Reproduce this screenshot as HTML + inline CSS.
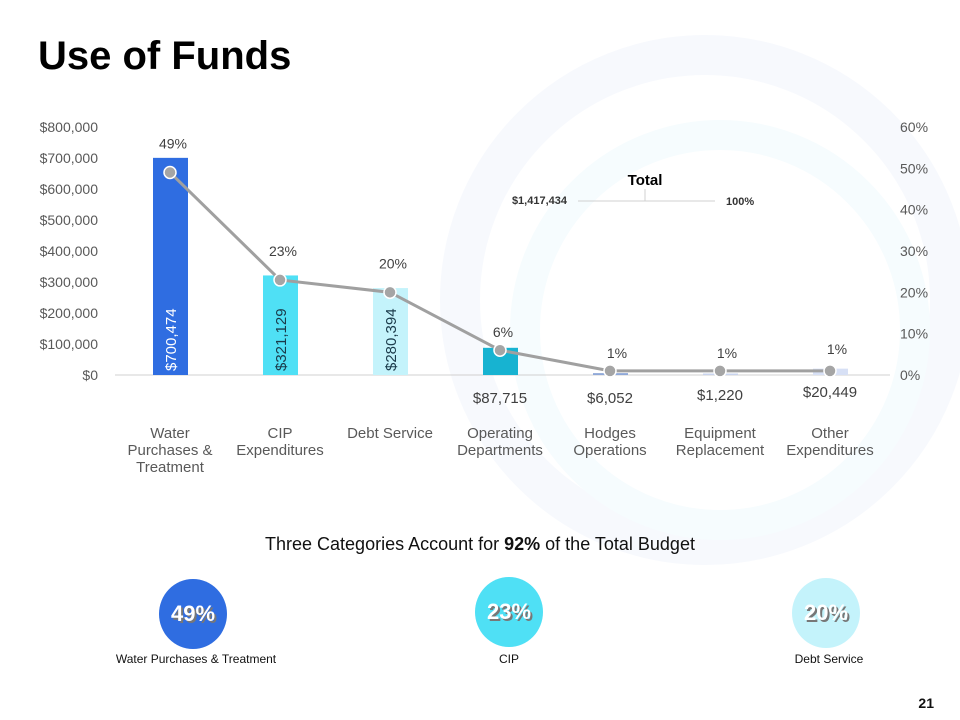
<!DOCTYPE html>
<html><head><meta charset="utf-8"><style>
body{margin:0;width:960px;height:720px;overflow:hidden;background:#fff;font-family:"Liberation Sans",sans-serif;}
svg{position:absolute;left:0;top:0}
</style></head><body>
<svg width="960" height="720">
<g>
<circle cx="705" cy="300" r="245" fill="none" stroke="#f7f9fd" stroke-width="40"/>
<circle cx="720" cy="330" r="195" fill="none" stroke="#f6fcfe" stroke-width="30"/>
</g>
<text x="38" y="69" font-size="40" font-weight="bold" fill="#000">Use of Funds</text>
<g id="chart"></g>
<text x="480" y="550" text-anchor="middle" font-size="18" fill="#111">Three Categories Account for <tspan font-weight="bold">92%</tspan> of the Total Budget</text>
<g id="circles"></g>
<text x="934" y="708" text-anchor="end" font-size="14" font-weight="bold" fill="#111">21</text>
</svg>
<script>
const categories=[["Water","Purchases &","Treatment"],["CIP","Expenditures"],["Debt Service"],["Operating","Departments"],["Hodges","Operations"],["Equipment","Replacement"],["Other","Expenditures"]];
const amounts=[700474,321129,280394,87715,6052,1220,20449];
const amountLabels=["$700,474","$321,129","$280,394","$87,715","$6,052","$1,220","$20,449"];
const percents=[49,23,20,6,1,1,1];
const leftTicks=[0,100000,200000,300000,400000,500000,600000,700000,800000];
const rightTicks=[0,10,20,30,40,50,60];
const barColors=["#2f6de1","#4fe0f5","#c4f3fb","#17b3d1","#8fa8d8","#c9d4ee","#d7e0f5"];
const NS="http://www.w3.org/2000/svg";
const chart=document.getElementById('chart');
function el(tag,attrs,parent,txt){const e=document.createElementNS(NS,tag);for(const k in attrs)e.setAttribute(k,attrs[k]);if(txt!==undefined)e.textContent=txt;(parent||chart).appendChild(e);return e;}
const y0=375,yTop=127;
const yL=v=>y0-(v/800000)*(y0-yTop);
const yR=p=>y0-(p/60)*(y0-yTop);
const xC=i=>170+i*110;
leftTicks.forEach(t=>{const e=el('text',{x:98,y:yL(t)+5,'text-anchor':'end','font-size':14,fill:'#595959'},chart,'$'+t.toLocaleString('en-US'));

});
rightTicks.forEach(t=>{const e=el('text',{x:900,y:yR(t)+5,'font-size':14,fill:'#595959'},chart,t+'%');

});
const ax=el('line',{x1:115,x2:890,y1:y0,y2:y0,stroke:'#d0d0d0'});


amounts.forEach((v,i)=>{const h=Math.max(y0-yL(v),1.5);
const b=el('rect',{x:xC(i)-17,y:y0-h,width:35,height:h,fill:barColors[i]});


let t;
if(i<3){t=el('text',{transform:`translate(${xC(i)+6},${y0-4}) rotate(-90)`,'font-size':15,fill:i==0?'#fff':'#1a3a4a','text-anchor':'start'},chart,amountLabels[i]);}
else{t=el('text',{x:xC(i),y:i==6?397:(i==5?400:403),'text-anchor':'middle','font-size':15,fill:'#404040'},chart,amountLabels[i]);}


categories[i].forEach((ln,j)=>{const c=el('text',{x:xC(i),y:438+j*17,'text-anchor':'middle','font-size':15,fill:'#595959'},chart,ln);

});
});
const pts=percents.map((p,i)=>[xC(i),yR(p)]);
const pl=el('polyline',{points:pts.map(p=>p.join(',')).join(' '),fill:'none',stroke:'#a0a0a0','stroke-width':3});


pts.forEach((p,i)=>{const c=el('circle',{cx:p[0],cy:p[1],r:6,fill:'#a5a5a5',stroke:'#fff','stroke-width':1.5});


const t=el('text',{x:p[0]+(i<4?3:7),y:p[1]-(i<3?24:13)-(i==6?4:0),'font-size':14,fill:'#404040','text-anchor':'middle'},chart,percents[i]+'%');

});
const tt=el('text',{x:645,y:185,'text-anchor':'middle','font-size':15,'font-weight':'bold',fill:'#000'},chart,'Total');


el('line',{x1:578,x2:715,y1:201,y2:201,stroke:'#d0d0d0'});
el('line',{x1:645,x2:645,y1:189,y2:201,stroke:'#d0d0d0'});
const ta=el('text',{x:567,y:204,'text-anchor':'end','font-size':11,'font-weight':'bold',fill:'#333'},chart,'$1,417,434');


const tp=el('text',{x:726,y:205,'font-size':11,'font-weight':'bold',fill:'#333'},chart,'100%');


const circ=document.getElementById('circles');
const bubbles=[[193,614,"#2f6de1","49%","Water Purchases & Treatment"],[509,612,"#4fe0f5","23%","CIP"],[826,613,"#c4f3fb","20%","Debt Service"]];
bubbles.forEach(b=>{const c=el('ellipse',{cx:b[0],cy:b[1],rx:34,ry:35,fill:b[2]},circ);


el('text',{x:b[0]+2,y:b[1]+9,'text-anchor':'middle','font-size':22,'font-weight':'bold',fill:'#777'},circ,b[3]);
const t=el('text',{x:b[0],y:b[1]+7,'text-anchor':'middle','font-size':22,'font-weight':'bold',fill:'#fff'},circ,b[3]);


const l=el('text',{x:b[0]+(b[4]=="CIP"?0:3),y:663,'text-anchor':'middle','font-size':12,fill:'#111'},circ,b[4]);

});
</script>
</body></html>
